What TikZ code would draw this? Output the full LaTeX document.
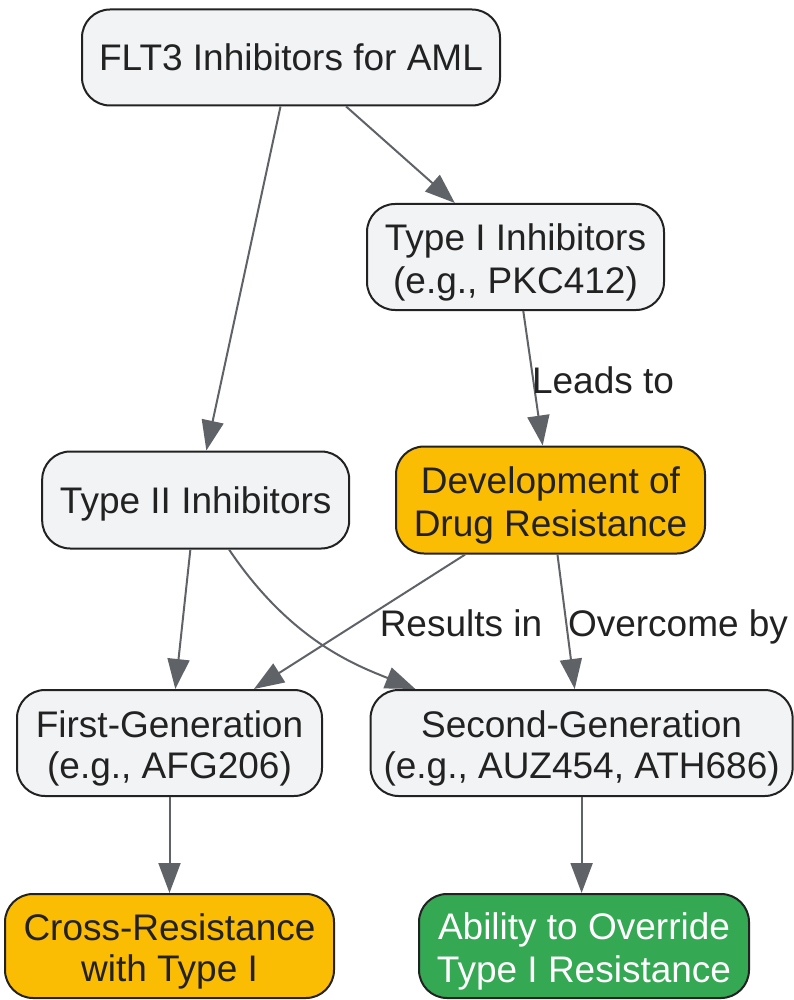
\documentclass[tikz,border=0pt]{standalone}
\usepackage{fontspec}
\setmainfont{Liberation Sans}
\usetikzlibrary{arrows.meta}
\definecolor{nodefill}{HTML}{F1F3F5}
\definecolor{nodeline}{HTML}{222222}
\definecolor{edgecol}{HTML}{5F6368}
\definecolor{txt}{HTML}{222222}
\definecolor{orangefill}{HTML}{FBBC04}
\definecolor{greenfill}{HTML}{34A853}
\newcommand\lnstrut{\rule[-7pt]{0pt}{41pt}}
\newcommand\topstrut{\rule[-7pt]{0pt}{45pt}}
\begin{document}
\begin{tikzpicture}[x=1pt,y=-1pt,
  box/.style={draw=nodeline, line width=2pt, rounded corners=28pt, fill=nodefill, text=txt,
    align=center, inner sep=0pt, font=\fontsize{37}{41.5}\selectfont},
  warn/.style={box, fill=orangefill},
  good/.style={box, fill=greenfill, text=white},
  arr/.style={draw=edgecol, line width=2pt, -{Triangle[length=30pt,width=22pt]}},
  lab/.style={text=txt, font=\fontsize{37}{41.5}\selectfont, inner sep=0pt, anchor=base}]
\useasboundingbox (0,0) rectangle (794,1000);
\node[box, minimum width=418pt, minimum height=96pt] (flt) at (291,57.5) {\lnstrut FLT3 Inhibitors for AML};
\node[box, minimum width=297pt, minimum height=106pt] (t1) at (515.5,257) {\topstrut Type I Inhibitors\\\lnstrut(e.g., PKC412)};
\node[box, minimum width=307pt, minimum height=97pt] (t2) at (195.7,500) {\lnstrut Type II Inhibitors};
\node[warn, minimum width=309pt, minimum height=107pt] (dev) at (550.5,500) {\topstrut Development of\\\lnstrut Drug Resistance};
\node[box, minimum width=305pt, minimum height=106pt] (fg) at (169.5,743) {\topstrut First-Generation\\\lnstrut(e.g., AFG206)};
\node[box, minimum width=422pt, minimum height=106pt] (sg) at (581.6,743) {\topstrut Second-Generation\\\lnstrut(e.g., AUZ454, ATH686)};
\node[warn, minimum width=329pt, minimum height=104pt] (cr) at (169.5,946) {\topstrut Cross-Resistance\\\lnstrut with Type I};
\node[good, minimum width=330pt, minimum height=104pt] (ab) at (584,946) {\topstrut Ability to Override\\\lnstrut Type I Resistance};
\draw[arr] (flt) -- (t1);
\draw[arr] (flt) -- (t2);
\draw[arr] (t1) -- (dev);
\draw[arr] (dev) -- (fg);
\draw[arr] (dev) -- (sg);
\draw[arr] (t2) -- (fg);
\draw[arr] (t2) .. controls (290,640) and (355,665) .. (sg.162);
\draw[arr] (fg) -- (cr);
\draw[arr] (sg) -- (sg |- ab.north);
\node[lab] (l1) at (603,393) {Leads to};
\node[lab] (l2) at (461,636) {Results in};
\node[lab] (l3) at (678,636) {Overcome by};
\end{tikzpicture}
\end{document}
